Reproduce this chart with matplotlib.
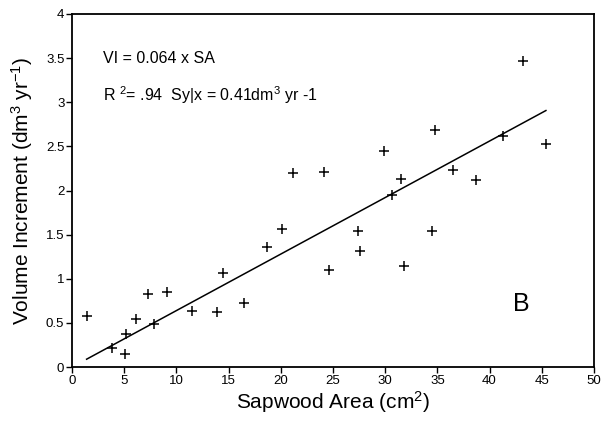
import matplotlib
matplotlib.use('Agg')
from matplotlib import pyplot as plt

plt.rcParams['font.family'] = ['Liberation Sans', 'DejaVu Sans']
plt.rcParams['mathtext.fontset'] = 'custom'
plt.rcParams['mathtext.rm'] = 'Liberation Sans'
plt.rcParams['mathtext.it'] = 'Liberation Sans:italic'

# sapwood area (cm2) and volume increment (dm3/yr)
sapwood = [1.4, 3.8, 5.1, 5.2, 6.1, 7.3, 7.9, 9.1, 11.5, 13.9, 14.5, 16.5,
           18.7, 20.1, 21.2, 24.1, 24.6, 27.4, 27.6, 29.9, 30.7, 31.5, 31.8,
           34.5, 34.8, 36.5, 38.7, 41.3, 43.2, 45.4]
volume = [0.58, 0.22, 0.15, 0.38, 0.54, 0.83, 0.49, 0.85, 0.63, 0.62, 1.07, 0.73,
          1.36, 1.56, 2.20, 2.21, 1.10, 1.54, 1.31, 2.45, 1.95, 2.13, 1.14,
          1.54, 2.68, 2.23, 2.12, 2.62, 3.47, 2.53]
slope = 0.064
fit_x = [1.4, 45.4]

x_ticks = [0, 5, 10, 15, 20, 25, 30, 35, 40, 45, 50]
y_ticks = [0, 0.5, 1, 1.5, 2, 2.5, 3, 3.5, 4]
y_labels = ['0', '0.5', '1', '1.5', '2', '2.5', '3', '3.5', '4']

fig = plt.figure(figsize=(6.02, 4.21), dpi=100)
ax = fig.add_axes([0.1196, 0.128, 0.867, 0.839])

ax.plot(sapwood, volume, '+', color='black', markersize=7, markeredgewidth=1.1)
ax.plot(fit_x, [slope * v for v in fit_x], color='black', linewidth=1.1)

ax.set_xlim(0, 50)
ax.set_ylim(0, 4)
ax.set_xticks(x_ticks)
ax.set_yticks(y_ticks)
ax.set_yticklabels(y_labels)
ax.tick_params(direction='out', length=4, width=1, labelsize=9.5, pad=1.5)
for s in ax.spines.values():
    s.set_linewidth(1.3)

ax.set_xlabel(r'Sapwood Area (cm$^2$)', fontsize=15, labelpad=2)
ax.set_ylabel(r'Volume Increment (dm$^3$ yr$^{-1}$)', fontsize=15, labelpad=8)

ax.text(2.95, 3.5, 'VI = 0.064 x SA', fontsize=11.5, va='center')
ax.text(2.95, 3.08, r'R $^{2}$= .94  Sy|x = 0.41dm$^{3}$ yr -1', fontsize=11.5, va='center')
ax.text(43, 0.71, 'B', fontsize=18, ha='center', va='center')

fig.savefig('out.png', dpi=100)
